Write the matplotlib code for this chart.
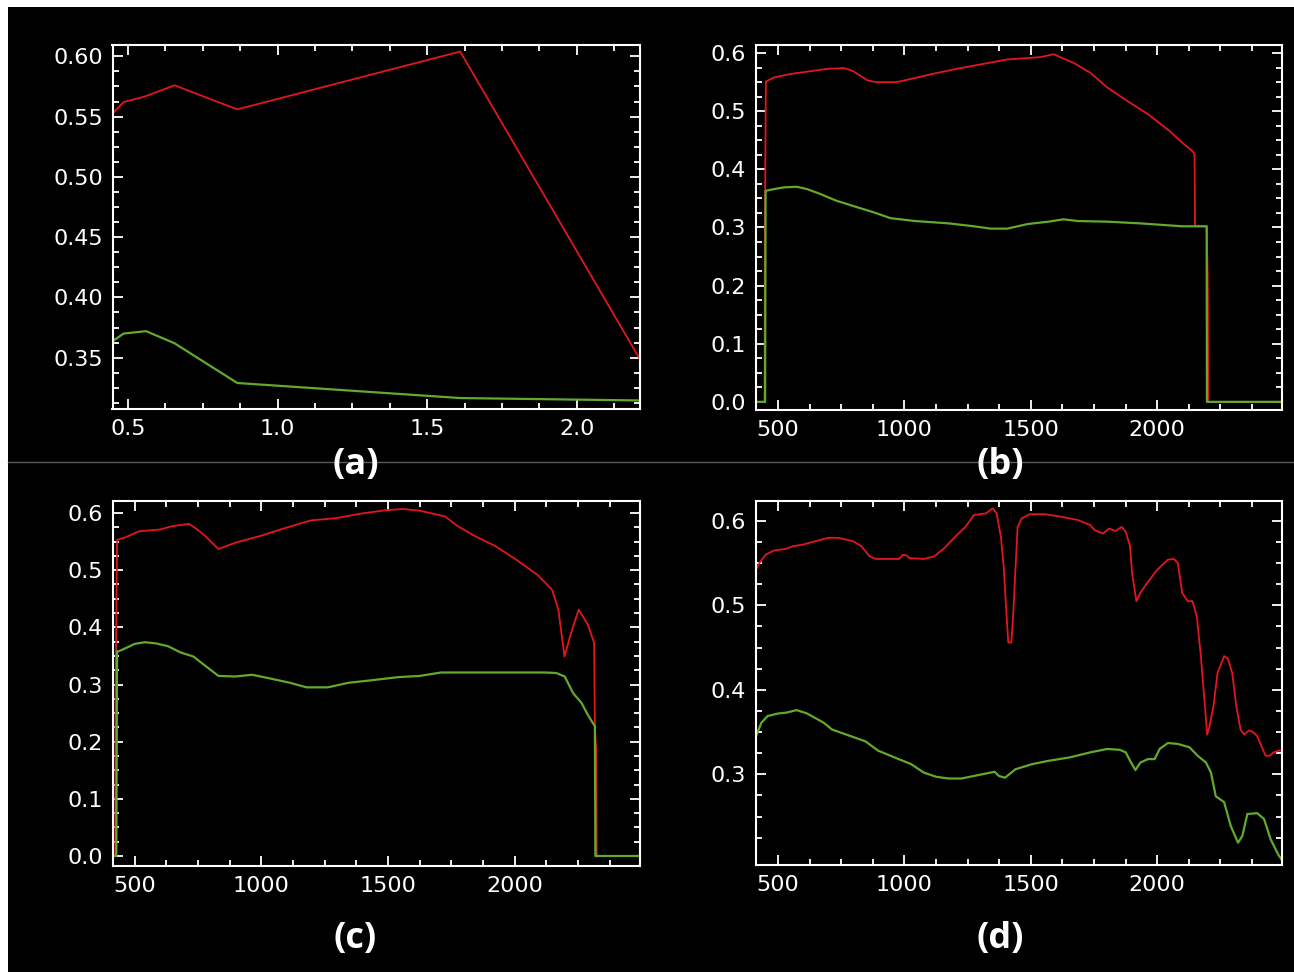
import matplotlib
matplotlib.use("Agg")
import matplotlib.pyplot as plt
from matplotlib.patches import Rectangle
from matplotlib.lines import Line2D
from matplotlib.ticker import MultipleLocator, FixedLocator

# === DATA ===
# (a) band centres (um)
wl_a = [0.45, 0.485, 0.56, 0.655, 0.865, 1.61, 2.21]
red_a = [0.553, 0.562, 0.567, 0.576, 0.556, 0.604, 0.349]
green_a = [0.364, 0.370, 0.372, 0.362, 0.329, 0.3165, 0.3145]

# (b)
wl_b_red = [413, 447, 448, 452, 484, 549, 632, 698, 764, 797, 854, 887, 970, 1011,
            1110, 1209, 1308, 1407, 1473, 1538, 1590, 1670, 1736, 1802, 1884, 1967,
            2049, 2099, 2140, 2148, 2150, 2196, 2200, 2201, 2202, 2500]
red_b = [0, 0, 0.275, 0.551, 0.558, 0.564, 0.569, 0.573, 0.574, 0.569, 0.553, 0.550,
         0.550, 0.554, 0.564, 0.573, 0.581, 0.589, 0.591, 0.593, 0.598, 0.583, 0.566,
         0.541, 0.517, 0.494, 0.466, 0.446, 0.431, 0.426, 0.302, 0.302, 0.214, 0.151,
         0, 0]
wl_b_green = [413, 449, 451, 484, 525, 574, 615, 665, 731, 797, 879, 945, 1044, 1176,
              1275, 1341, 1407, 1489, 1571, 1629, 1687, 1802, 1934, 2099, 2196, 2197, 2500]
green_b = [0, 0, 0.363, 0.366, 0.369, 0.370, 0.366, 0.358, 0.346, 0.337, 0.326, 0.316,
           0.311, 0.307, 0.302, 0.298, 0.298, 0.306, 0.310, 0.314, 0.311, 0.310, 0.307,
           0.302, 0.302, 0, 0]

# (c)
wl_c_red = [413, 424, 425, 431, 467, 517, 599, 649, 715, 748, 781, 831, 897, 997, 1096,
            1195, 1295, 1394, 1493, 1560, 1626, 1725, 1775, 1841, 1924, 2007, 2089,
            2147, 2172, 2196, 2222, 2252, 2288, 2313, 2316, 2321, 2322, 2323, 2500]
red_c = [0, 0, 0.276, 0.553, 0.558, 0.568, 0.571, 0.577, 0.581, 0.571, 0.559, 0.537,
         0.548, 0.560, 0.574, 0.587, 0.591, 0.599, 0.605, 0.607, 0.604, 0.594, 0.577,
         0.560, 0.542, 0.518, 0.492, 0.466, 0.431, 0.349, 0.390, 0.431, 0.405, 0.373,
         0.227, 0.186, 0.111, 0, 0]
wl_c_green = [413, 428, 431, 437, 467, 500, 541, 583, 632, 682, 732, 781, 831, 897, 964,
              1030, 1113, 1179, 1262, 1344, 1427, 1543, 1626, 1709, 2122, 2164, 2197,
              2230, 2263, 2288, 2316, 2318, 2500]
green_c = [0, 0, 0.358, 0.358, 0.364, 0.371, 0.374, 0.372, 0.367, 0.356, 0.349, 0.332,
           0.315, 0.314, 0.317, 0.311, 0.303, 0.295, 0.295, 0.303, 0.307, 0.313, 0.315,
           0.321, 0.321, 0.320, 0.314, 0.285, 0.268, 0.247, 0.227, 0, 0]

# (d)
wl_d_red = [413, 426, 451, 484, 533, 558, 599, 648, 698, 739, 797, 830, 863, 887, 945,
            980, 994, 1010, 1019, 1077, 1118, 1159, 1200, 1242, 1275, 1324, 1349, 1365,
            1382, 1393, 1403, 1411, 1423, 1431, 1440, 1448, 1464, 1497, 1555, 1621, 1687,
            1736, 1753, 1786, 1810, 1835, 1860, 1876, 1893, 1901, 1918, 1934, 1959, 2000,
            2042, 2066, 2082, 2099, 2121, 2140, 2157, 2173, 2190, 2198, 2206, 2223, 2239,
            2265, 2280, 2297, 2313, 2330, 2344, 2364, 2380, 2396, 2429, 2445, 2461, 2481,
            2500]
red_d = [0.542, 0.550, 0.560, 0.565, 0.567, 0.570, 0.572, 0.576, 0.580, 0.580, 0.576,
         0.570, 0.558, 0.555, 0.555, 0.555, 0.560, 0.559, 0.556, 0.555, 0.558, 0.568,
         0.581, 0.593, 0.607, 0.609, 0.615, 0.609, 0.581, 0.546, 0.495, 0.456, 0.456,
         0.491, 0.546, 0.593, 0.603, 0.608, 0.608, 0.605, 0.601, 0.595, 0.589, 0.585,
         0.591, 0.588, 0.593, 0.587, 0.570, 0.538, 0.505, 0.515, 0.526, 0.542, 0.554,
         0.555, 0.550, 0.515, 0.505, 0.505, 0.487, 0.440, 0.377, 0.347, 0.355, 0.381,
         0.420, 0.440, 0.437, 0.420, 0.381, 0.353, 0.347, 0.352, 0.350, 0.345, 0.322,
         0.322, 0.326, 0.328, 0.328]
wl_d_green = [413, 434, 459, 500, 533, 574, 615, 681, 714, 780, 846, 896, 961, 1027, 1077,
              1126, 1176, 1225, 1275, 1357, 1374, 1398, 1415, 1440, 1505, 1571, 1654, 1736,
              1802, 1852, 1876, 1893, 1914, 1934, 1964, 1990, 2010, 2042, 2081, 2128, 2160,
              2193, 2213, 2232, 2265, 2291, 2320, 2337, 2357, 2396, 2423, 2449, 2481, 2500]
green_d = [0.345, 0.361, 0.369, 0.372, 0.373, 0.376, 0.372, 0.361, 0.353, 0.346, 0.339,
           0.328, 0.320, 0.312, 0.302, 0.297, 0.295, 0.295, 0.298, 0.303, 0.298, 0.296,
           0.300, 0.306, 0.312, 0.316, 0.320, 0.326, 0.330, 0.329, 0.326, 0.316, 0.305,
           0.314, 0.318, 0.318, 0.330, 0.337, 0.336, 0.332, 0.322, 0.314, 0.302, 0.274,
           0.267, 0.239, 0.219, 0.227, 0.253, 0.254, 0.247, 0.223, 0.204, 0.196]

d_yticks = [0.3, 0.4, 0.5, 0.6]
panel_labels = ["(a)", "(b)", "(c)", "(d)"]

RED = "#e3161e"
GREEN = "#62a92e"
W, H = 1294, 972

# === FIGURE ===
fig = plt.figure(figsize=(W / 100, H / 100), dpi=100)
fig.patch.set_facecolor("white")
fig.patches.append(Rectangle((8 / W, 0), 1 - 8 / W, 1 - 7 / H, transform=fig.transFigure,
                             facecolor="black", edgecolor="none", zorder=-5))
fig.lines.append(Line2D([8 / W, 1], [1 - 462 / H, 1 - 462 / H], transform=fig.transFigure,
                        color="#5c5c5c", lw=1.0, zorder=1))


def px_axes(left, top, right, bottom):
    return fig.add_axes([left / W, 1 - bottom / H, (right - left) / W, (bottom - top) / H])


def style(ax, xmaj, xmin, ymaj, ymin, yfmt):
    ax.set_facecolor("black")
    for s in ax.spines.values():
        s.set_color("white")
        s.set_linewidth(1.5)
    ax.xaxis.set_major_locator(MultipleLocator(xmaj))
    ax.xaxis.set_minor_locator(MultipleLocator(xmin))
    ax.yaxis.set_major_locator(MultipleLocator(ymaj))
    ax.yaxis.set_minor_locator(MultipleLocator(ymin))
    ax.yaxis.set_major_formatter(yfmt)
    ax.tick_params(which="both", direction="in", top=True, right=True, colors="white",
                   labelsize=16, width=1.3)
    ax.tick_params(which="major", length=7, pad=7)
    ax.tick_params(which="minor", length=4)


ax_a = px_axes(112.5, 45.5, 640, 409.5)
ax_b = px_axes(756, 45.5, 1282, 410)
ax_c = px_axes(112.5, 501, 640, 866)
ax_d = px_axes(756, 501, 1282, 865)

ax_a.plot(wl_a, red_a, color=RED, lw=1.3)
ax_a.plot(wl_a, green_a, color=GREEN, lw=1.6)
ax_a.set_xlim(0.448, 2.211)
ax_a.set_ylim(0.307, 0.609)
style(ax_a, 0.5, 0.125, 0.05, 0.0125, "{x:.2f}")
ax_a.xaxis.set_major_formatter("{x:.1f}")

ax_b.plot(wl_b_red, red_b, color=RED, lw=1.3)
ax_b.plot(wl_b_green, green_b, color=GREEN, lw=1.6)
ax_b.set_xlim(413, 2494)
ax_b.set_ylim(-0.014, 0.613)
style(ax_b, 500, 125, 0.1, 0.025, "{x:.1f}")

ax_c.plot(wl_c_red, red_c, color=RED, lw=1.3)
ax_c.plot(wl_c_green, green_c, color=GREEN, lw=1.6)
ax_c.set_xlim(413, 2494)
ax_c.set_ylim(-0.0175, 0.621)
style(ax_c, 500, 125, 0.1, 0.025, "{x:.1f}")

ax_d.plot(wl_d_red, red_d, color=RED, lw=1.3)
ax_d.plot(wl_d_green, green_d, color=GREEN, lw=1.6)
ax_d.set_xlim(413, 2494)
ax_d.set_ylim(0.1926, 0.6236)
style(ax_d, 500, 125, 0.1, 0.025, "{x:.1f}")
# no tick at 0.2 in this panel
ax_d.yaxis.set_major_locator(FixedLocator(d_yticks))
ax_d.yaxis.set_minor_locator(FixedLocator([v / 1000 for v in range(225, 625, 25)]))

# === PANEL LABELS ===
label_pos = [(356, 465), (1000, 465), (355, 939), (1000, 939)]
for lab, (x, y) in zip(panel_labels, label_pos):
    fig.text(x / W, 1 - y / H, lab, color="white", fontsize=26, fontweight="bold",
             family="Open Sans", ha="center", va="center", zorder=3)

fig.savefig("out.png", dpi=100, facecolor=fig.get_facecolor())
